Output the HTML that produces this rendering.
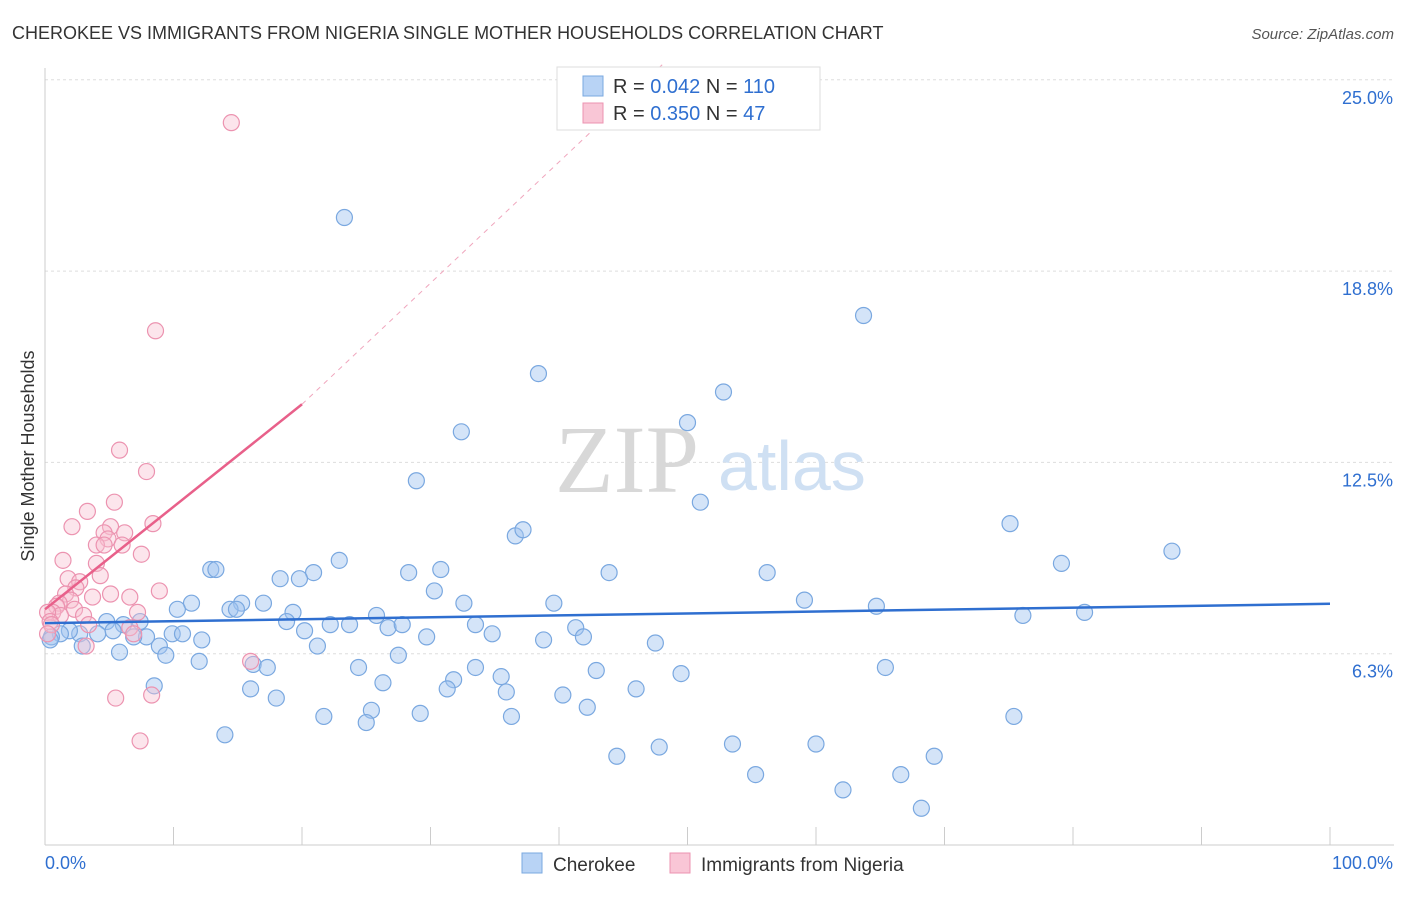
<!DOCTYPE html>
<html><head><meta charset="utf-8"><style>
body{margin:0;background:#fff;font-family:"Liberation Sans",sans-serif;}
svg text{font-family:"Liberation Sans",sans-serif;}
</style></head><body>
<svg id="c" width="1406" height="892">
<text x="12" y="39" font-size="18" fill="#333">CHEROKEE VS IMMIGRANTS FROM NIGERIA SINGLE MOTHER HOUSEHOLDS CORRELATION CHART</text>
<text x="1394" y="39" font-size="15" fill="#555" font-style="italic" text-anchor="end">Source: ZipAtlas.com</text>
<text transform="translate(34,456) rotate(-90)" font-size="18" fill="#333" text-anchor="middle">Single Mother Households</text>
<g id="grid"></g>
<text x="555" y="492" font-size="96" fill="#d8d8d8" font-family="Liberation Serif" style="font-family:'Liberation Serif',serif">ZIP</text>
<text x="718" y="490" font-size="70" fill="#cfe0f3">atlas</text>
<g id="marks"></g>
<g>
<rect x="557" y="67" width="263" height="63" fill="#fff" stroke="#ddd"/>
<rect x="583" y="76" width="20" height="20" fill="#b8d3f5" stroke="#7aa8e0"/>
<rect x="583" y="103" width="20" height="20" fill="#f9c6d6" stroke="#ec93b0"/>
<text x="613" y="93" font-size="20" fill="#333">R = <tspan fill="#2f6fd0">0.042</tspan>   N = <tspan fill="#2f6fd0">110</tspan></text>
<text x="613" y="120" font-size="20" fill="#333">R = <tspan fill="#2f6fd0">0.350</tspan>   N =  <tspan fill="#2f6fd0">47</tspan></text>
</g>
<g>
<rect x="522" y="853" width="20" height="20" fill="#b8d3f5" stroke="#7aa8e0"/>
<text x="553" y="871" font-size="19" fill="#333">Cherokee</text>
<rect x="670" y="853" width="20" height="20" fill="#f9c6d6" stroke="#ec93b0"/>
<text x="701" y="871" font-size="19" fill="#333">Immigrants from Nigeria</text>
</g>
</svg>
<script>
const yTicks=[6.25,12.5,18.75,25];
const yTickLabels=["6.3%","12.5%","18.8%","25.0%"];
const xTickLabels=["0.0%","100.0%"];
const blueX=[23.3,63.7,38.4,52.8,32.4,50,28.9,51,36.6,37.2,75.1,87.7,79.1,22.9,12.9,13.3,20.9,18.3,19.8,28.3,30.8,43.9,56.2,30.3,11.4,17,19.3,15.3,14.4,14.9,10.3,32.6,39.6,59.1,64.7,76.1,80.9,25.8,18.8,22.2,23.7,26.7,27.8,20.2,33.5,41.3,41.9,34.8,38.8,29.7,47.5,21.2,9.9,10.7,12.2,8.9,7.9,6.9,6.1,4.8,5.3,7.4,4.1,2.7,1.9,1.2,0.5,0.4,2.9,5.8,9.4,12,16.2,17.3,24.4,27.5,33.5,35.5,42.9,49.5,65.4,8.5,16,26.3,31.8,31.3,35.9,40.3,46,18,42.2,25.4,21.7,29.2,36.3,75.4,25,14,47.8,44.5,53.5,60,55.3,62.1,66.6,69.2,68.2];
const blueY=[20.5,17.3,15.4,14.8,13.5,13.8,11.9,11.2,10.1,10.3,10.5,9.6,9.2,9.3,9,9,8.9,8.7,8.7,8.9,9,8.9,8.9,8.3,7.9,7.9,7.6,7.9,7.7,7.7,7.7,7.9,7.9,8,7.8,7.5,7.6,7.5,7.3,7.2,7.2,7.1,7.2,7,7.2,7.1,6.8,6.9,6.7,6.8,6.6,6.5,6.9,6.9,6.7,6.5,6.8,6.8,7.2,7.3,7,7.3,6.9,6.9,7,6.9,6.8,6.7,6.5,6.3,6.2,6,5.9,5.8,5.8,6.2,5.8,5.5,5.7,5.6,5.8,5.2,5.1,5.3,5.4,5.1,5,4.9,5.1,4.8,4.5,4.4,4.2,4.3,4.2,4.2,4,3.6,3.2,2.9,3.3,3.3,2.3,1.8,2.3,2.9,1.2];
const pinkX=[14.5,8.6,5.8,7.9,5.4,3.3,2.1,8.4,5.1,6.2,4.6,4.9,6,4,4.6,7.5,1.4,4,1.8,2.7,2.4,4.3,8.9,5.1,1.6,3.7,6.6,2.0,7.2,1.1,2.3,0.9,0.6,3,1.2,0.2,0.4,0.5,3.4,6.6,6.9,3.2,16,5.5,8.3,7.4,0.2];
const pinkY=[23.6,16.8,12.9,12.2,11.2,10.9,10.4,10.5,10.4,10.2,10.2,10,9.8,9.8,9.8,9.5,9.3,9.2,8.7,8.6,8.4,8.8,8.3,8.2,8.2,8.1,8.1,8,7.6,7.9,7.7,7.8,7.6,7.5,7.5,7.6,7.3,7.2,7.2,7.1,6.9,6.5,6,4.8,4.9,3.4,6.9];
const blueTrend=[[0,7.25],[100,7.88]];
const pinkTrend=[[0,7.7],[20,14.4]];
const pinkDash=[[20,14.4],[48.3,25.6]];
const X0=45,X1=1330,Y0=845,PX=(X1-X0)/100,PY=191.3/6.25;
const sx=v=>X0+v*PX, sy=v=>Y0-v*PY;
const NS="http://www.w3.org/2000/svg";
function mk(t,a,p){const e=document.createElementNS(NS,t);for(const k in a)e.setAttribute(k,a[k]);p.appendChild(e);return e;}
const grid=document.getElementById('grid'),marks=document.getElementById('marks');
yTicks.forEach((v,i)=>{
 const l=mk('line',{x1:X0,x2:1394,y1:sy(v),y2:sy(v),stroke:'#ddd','stroke-dasharray':'3,3'},grid);
 
 
 const t=mk('text',{x:1393,y:sy(v)+24,'font-size':18,fill:'#2f6fd0','text-anchor':'end'},grid);
 t.textContent=yTickLabels[i];
 
 
});
const ax=mk('line',{x1:X0,x2:X0,y1:68,y2:Y0,stroke:'#ccc'},grid);


const bx=mk('line',{x1:X0,x2:1394,y1:Y0,y2:Y0,stroke:'#ccc'},grid);


for(let i=0;i<=10;i++){const tk=mk('line',{x1:sx(i*10),x2:sx(i*10),y1:Y0,y2:Y0-18,stroke:'#ccc'},grid);
 
 }
[[0,'start',X0],[1,'end',1393]].forEach(([i,a,x])=>{const t=mk('text',{x:x,y:869,'font-size':18,fill:'#2f6fd0','text-anchor':a},grid);t.textContent=xTickLabels[i];
 
 });
blueX.forEach((v,i)=>{const c=mk('circle',{cx:sx(v),cy:sy(blueY[i]),r:8,fill:'rgba(160,196,240,0.45)',stroke:'#7aa8e0','stroke-width':1.2},marks);
 
 });
pinkX.forEach((v,i)=>{const c=mk('circle',{cx:sx(v),cy:sy(pinkY[i]),r:8,fill:'rgba(248,190,208,0.4)',stroke:'#ec93b0','stroke-width':1.2},marks);
 
 });
const bt=mk('line',{x1:sx(blueTrend[0][0]),y1:sy(blueTrend[0][1]),x2:sx(blueTrend[1][0]),y2:sy(blueTrend[1][1]),stroke:'#2f6fd0','stroke-width':2.5},marks);


const pt=mk('line',{x1:sx(pinkTrend[0][0]),y1:sy(pinkTrend[0][1]),x2:sx(pinkTrend[1][0]),y2:sy(pinkTrend[1][1]),stroke:'#e8608a','stroke-width':2.5},marks);


const pd=mk('line',{x1:sx(pinkDash[0][0]),y1:sy(pinkDash[0][1]),x2:sx(pinkDash[1][0]),y2:sy(pinkDash[1][1]),stroke:'#f0a6bd','stroke-width':1,'stroke-dasharray':'5,5'},marks);


</script>
</body></html>
